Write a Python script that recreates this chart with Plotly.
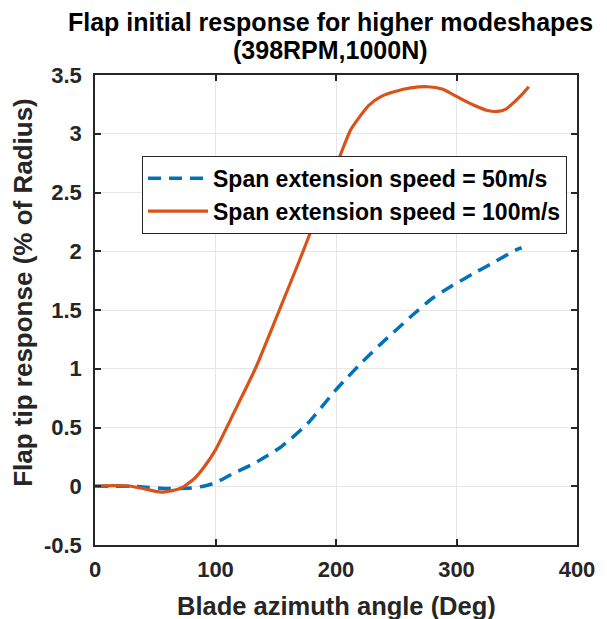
import plotly.graph_objects as go

# Blade azimuth angle (deg) and flap tip response (% of radius)
x_50 = [0, 15, 30, 45, 60, 80, 90, 100, 113, 133, 155, 177, 199, 208, 222, 236, 251, 265, 280, 297, 314, 331, 349, 354]
y_50 = [0, 0, 0, -0.01, -0.02, -0.015, 0.0, 0.03, 0.10, 0.20, 0.34, 0.54, 0.81, 0.91, 1.06, 1.20, 1.34, 1.47, 1.60, 1.71, 1.81, 1.905, 2.01, 2.03]

x_100 = [0, 15, 30, 42, 55, 65, 72, 83, 91, 100, 115, 133, 153, 170, 181, 192, 204, 212, 220, 227, 238, 249,
         262, 276, 288, 296, 305, 315, 325, 334, 341, 348, 354, 360]
y_100 = [0, 0.005, 0, -0.025, -0.05, -0.035, -0.014, 0.07, 0.17, 0.31, 0.62, 1.0, 1.5, 1.93, 2.22, 2.52, 2.83, 3.03,
         3.15, 3.24, 3.32, 3.36, 3.39, 3.40, 3.38, 3.34, 3.29, 3.24, 3.20, 3.19, 3.21, 3.27, 3.33, 3.40]

x_ticks = [0, 100, 200, 300, 400]
y_ticks = [-0.5, 0, 0.5, 1, 1.5, 2, 2.5, 3, 3.5]
y_ticktext = ["-0.5", "0", "0.5", "1", "1.5", "2", "2.5", "3", "3.5"]

series_names = ["Span extension speed = 50m/s", "Span extension speed = 100m/s"]
title_lines = ["Flap initial response for higher modeshapes", "(398RPM,1000N)"]
x_title = "Blade azimuth angle (Deg)"
y_title = "Flap tip response (% of Radius)"

FONT = "Liberation Sans"
AX = "#262626"

fig = go.Figure()
fig.add_trace(go.Scatter(
    x=x_50, y=y_50, mode="lines", name=f"<b>{series_names[0]}</b>",
    line=dict(color="#0072BD", width=3.5, dash="13px,8px", shape="spline", smoothing=0.6),
))
fig.add_trace(go.Scatter(
    x=x_100, y=y_100, mode="lines", name=f"<b>{series_names[1]}</b>",
    line=dict(color="#D95319", width=3.2, shape="spline", smoothing=0.6),
))

axis_common = dict(
    showline=True, linecolor=AX, linewidth=1.5, mirror="allticks",
    ticks="inside", ticklen=6, tickcolor=AX, tickwidth=1.5,
    showgrid=True, gridcolor="#e6e6e6", gridwidth=1, zeroline=False,
    tickfont=dict(family=FONT, size=22, color=AX), automargin=False,
)

# The page body adds an 8px margin, so the figure is 8px smaller on each axis
fig.update_layout(
    width=599, height=611,
    margin=dict(l=87, r=30, t=67, b=74),
    paper_bgcolor="white", plot_bgcolor="white",
    font=dict(family=FONT),
    xaxis=dict(
        range=[0, 400], tickvals=x_ticks, ticktext=[f"<b>{v}</b>" for v in x_ticks],
        ticklabelstandoff=4, **axis_common,
    ),
    yaxis=dict(
        range=[-0.5, 3.5], tickvals=y_ticks, ticktext=[f"<b>{t}</b>" for t in y_ticktext],
        ticklabelstandoff=7, **axis_common,
    ),
    legend=dict(
        x=0.0975, y=0.828, xanchor="left", yanchor="top",
        bgcolor="white", bordercolor=AX, borderwidth=1,
        font=dict(family=FONT, size=23, color="black"),
        itemwidth=60, tracegroupgap=0,
    ),
    showlegend=True,
    annotations=[
        dict(text=f"<b>{title_lines[0]}</b>", xref="paper", yref="paper", x=0.4876, y=1.1128,
             xanchor="center", yanchor="middle", showarrow=False,
             font=dict(family=FONT, size=25, color="black")),
        dict(text=f"<b>{title_lines[1]}</b>", xref="paper", yref="paper", x=0.4876, y=1.0532,
             xanchor="center", yanchor="middle", showarrow=False,
             font=dict(family=FONT, size=25, color="black")),
        dict(text=f"<b>{x_title}</b>", xref="paper", yref="paper", x=0.5, y=-0.1298,
             xanchor="center", yanchor="middle", showarrow=False,
             font=dict(family=FONT, size=25.5, color=AX)),
        dict(text=f"<b>{y_title}</b>", xref="paper", yref="paper", x=-0.15, y=0.538,
             xanchor="center", yanchor="middle", showarrow=False, textangle=-90,
             font=dict(family=FONT, size=26, color=AX)),
    ],
)

fig.write_html("out.html")
